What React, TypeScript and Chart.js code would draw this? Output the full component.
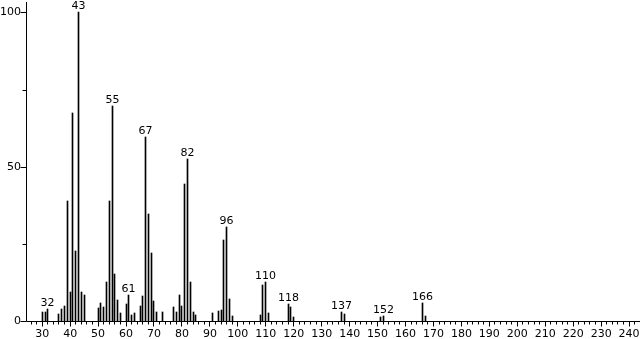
import React, { useEffect, useRef } from 'react';
import { Chart, registerables } from 'chart.js';

Chart.register(...registerables);

// m/z values and relative intensities
const massCharge = [
  30, 31, 32, 36, 37, 38, 39, 40, 41, 42, 43, 44, 45,
  50, 51, 52, 53, 54, 55, 56, 57, 58, 60, 61, 62, 63,
  65, 66, 67, 68, 69, 70, 71, 73, 77, 78, 79, 80, 81, 82, 83, 84, 85,
  91, 93, 94, 95, 96, 97, 98, 108, 109, 110, 111, 118, 119, 120,
  137, 138, 151, 152, 166, 167,
];
const intensity = [
  3.0, 3.0, 3.9, 2.4, 4.0, 5.0, 38.9, 9.4, 67.4, 22.8, 100, 9.4, 8.5,
  4.2, 5.9, 4.6, 12.7, 39.0, 69.6, 15.2, 6.8, 2.7, 5.4, 8.5, 1.9, 2.7,
  5.0, 8.1, 59.7, 34.6, 22.0, 6.5, 2.8, 2.8, 4.4, 2.8, 8.3, 4.7, 44.3, 52.6, 12.5, 2.8, 1.8,
  2.6, 3.2, 3.6, 26.2, 30.6, 7.1, 1.6, 1.9, 11.7, 12.6, 2.6, 5.5, 4.5, 1.3,
  2.8, 2.4, 1.2, 1.6, 5.7, 1.6,
];
const labelledPeaks = [32, 43, 55, 61, 67, 82, 96, 110, 118, 137, 152, 166];
const xTickLabels = [30, 40, 50, 60, 70, 80, 90, 100, 110, 120, 130, 140, 150, 160, 170, 180, 190, 200, 210, 220, 230, 240];
const xMinorTicks = [26, 28, 32, 34, 36, 38, 42, 44, 46, 48, 52, 54, 56, 58, 62, 64, 66, 68, 72, 74, 76, 78, 82, 84, 86, 88, 92, 94, 96, 98, 102, 104, 106, 108, 112, 114, 116, 118, 122, 124, 126, 128, 132, 134, 136, 138, 142, 144, 146, 148, 152, 154, 156, 158, 162, 164, 166, 168, 172, 174, 176, 178, 182, 184, 186, 188, 192, 194, 196, 198, 202, 204, 206, 208, 212, 214, 216, 218, 222, 224, 226, 228, 232, 234, 236, 238, 242];
const yTickLabels = [0, 50, 100];
const yMinorTicks = [25, 75];

const FONT_FAMILY = '"DejaVu Sans", sans-serif';

export default function App() {
  const ref = useRef<HTMLCanvasElement>(null);

  useEffect(() => {
    document.body.style.margin = '0';
    const canvas = ref.current;
    if (!canvas) return;

    const axesPlugin = {
      id: 'spectrumAxes',
      beforeDatasetsDraw(chart: any) {
        // snap each 1px bar onto the pixel grid so it stays crisp
        const meta = chart.getDatasetMeta(0);
        meta.data.forEach((el: any) => {
          el.x = Math.round(el.x - 0.5) + 0.5;
          el.y = Math.round(el.y);
        });
      },
      afterDraw(chart: any) {
        const { ctx, chartArea } = chart;
        const xs = chart.scales.x;
        const ys = chart.scales.y;
        const axisY = Math.round(ys.getPixelForValue(0)) + 0.5;
        const axisX = Math.round(chartArea.left) + 0.5;
        ctx.save();
        ctx.strokeStyle = '#000';
        ctx.lineWidth = 1;
        ctx.beginPath();
        ctx.moveTo(axisX, chartArea.top + 2);
        ctx.lineTo(axisX, axisY);
        ctx.lineTo(chartArea.right, axisY);
        ctx.stroke();

        ctx.beginPath();
        xTickLabels.forEach((v) => {
          const px = Math.round(xs.getPixelForValue(v) - 0.5) + 0.5;
          ctx.moveTo(px, axisY);
          ctx.lineTo(px, axisY + 5);
        });
        xMinorTicks.forEach((v) => {
          const px = Math.round(xs.getPixelForValue(v) - 0.5) + 0.5;
          ctx.moveTo(px, axisY);
          ctx.lineTo(px, axisY + 3);
        });
        yTickLabels.forEach((v) => {
          const py = Math.round(ys.getPixelForValue(v)) + 0.5;
          ctx.moveTo(axisX, py);
          ctx.lineTo(axisX - 6, py);
        });
        yMinorTicks.forEach((v) => {
          const py = Math.round(ys.getPixelForValue(v)) + 0.5;
          ctx.moveTo(axisX, py);
          ctx.lineTo(axisX - 4, py);
        });
        ctx.stroke();

        // peak labels
        const meta = chart.getDatasetMeta(0);
        ctx.fillStyle = '#000';
        ctx.font = '11px ' + FONT_FAMILY;
        ctx.textAlign = 'center';
        ctx.textBaseline = 'alphabetic';
        labelledPeaks.forEach((m) => {
          const idx = massCharge.indexOf(m);
          if (idx < 0) return;
          const el = meta.data[idx];
          ctx.fillText(String(m), el.x, el.y - 3);
        });
        ctx.restore();
      },
    };

    const chart = new Chart(canvas, {
      type: 'bar',
      data: {
        datasets: [
          {
            data: massCharge.map((m, i) => ({ x: m, y: intensity[i] })),
            backgroundColor: '#000',
            borderWidth: 0,
            barThickness: 1,
          },
        ],
      },
      options: {
        animation: false,
        responsive: false,
        maintainAspectRatio: false,
        layout: { padding: { left: 0, right: 4, top: 0, bottom: 0 } },
        plugins: {
          legend: { display: false },
          tooltip: { enabled: false },
          title: { display: false },
        },
        scales: {
          x: {
            type: 'linear',
            min: 24.2,
            max: 243.9,
            offset: false,
            grid: { display: false, drawTicks: false },
            border: { display: false },
            afterBuildTicks: (scale: any) => {
              scale.ticks = xTickLabels.map((v) => ({ value: v }));
            },
            afterFit: (scale: any) => {
              scale.height = 18;
              scale.paddingLeft = 0;
              scale.paddingRight = 0;
            },
            ticks: {
              autoSkip: false,
              maxRotation: 0,
              padding: 7,
              color: '#000',
              font: { family: FONT_FAMILY, size: 11 },
              callback: (v: any) => String(v),
            },
          },
          y: {
            type: 'linear',
            min: 0,
            max: 104,
            grid: { display: false, drawTicks: false },
            border: { display: false },
            afterBuildTicks: (scale: any) => {
              scale.ticks = yTickLabels.map((v) => ({ value: v }));
            },
            afterFit: (scale: any) => {
              scale.width = 26;
              scale.paddingTop = 0;
              scale.paddingBottom = 0;
            },
            ticks: {
              autoSkip: false,
              padding: 5,
              color: '#000',
              font: { family: FONT_FAMILY, size: 11 },
              callback: (v: any) => String(v),
            },
          },
        },
      },
      plugins: [axesPlugin],
    });

    return () => {
      chart.destroy();
    };
  }, []);

  return (
    <div style={{ width: 644, height: 339, background: '#fff' }}>
      <canvas ref={ref} width={644} height={339} style={{ display: 'block' }} />
    </div>
  );
}
